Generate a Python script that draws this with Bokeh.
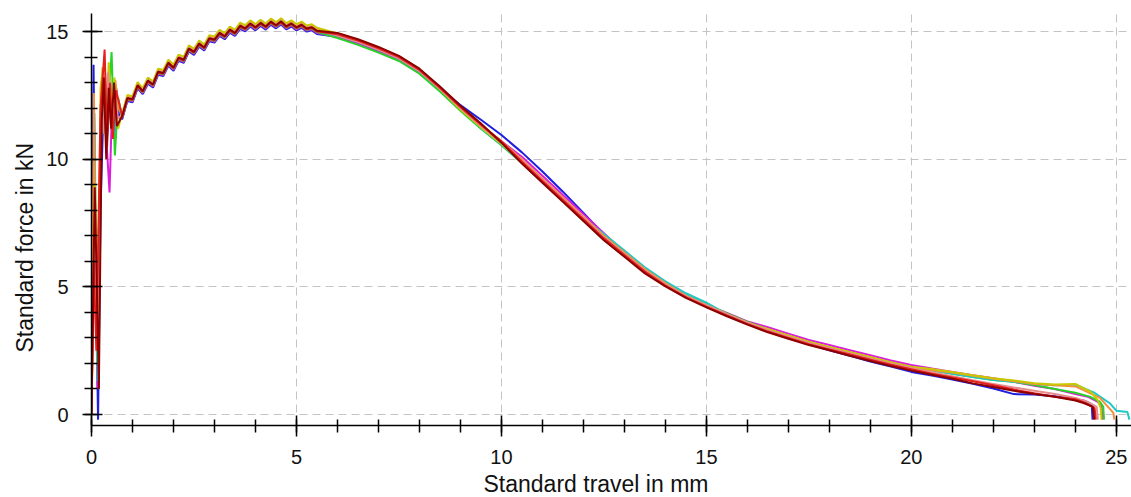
from bokeh.plotting import figure
from bokeh.models import SingleIntervalTicker, Range1d, Title
from bokeh.embed import file_html
from bokeh.resources import INLINE

# ---------------- data ----------------
travel_body = [0.75, 0.875, 1.0, 1.125, 1.25, 1.375, 1.5, 1.625, 1.75, 1.875, 2.0, 2.125, 2.25, 2.375,
               2.5, 2.625, 2.75, 2.875, 3.0, 3.125, 3.25, 3.375, 3.5, 3.625, 3.75, 3.875, 4.0, 4.125,
               4.25, 4.375, 4.5, 4.625, 4.75, 4.875, 5.0, 5.125, 5.25, 5.375, 5.5,
               6.0, 6.5, 7.0, 7.5, 8.0, 8.5, 9.0, 9.5, 10.0, 10.5, 11.0, 11.5, 12.0, 12.5, 13.0, 13.5,
               14.0, 14.5, 15.0, 15.5, 16.0, 16.5, 17.0, 17.5, 18.0, 18.5, 19.0, 19.5, 20.0, 20.5,
               21.0, 21.5, 22.0, 22.5, 23.0, 23.5, 24.0]

# blue
blue_head_x = [0.0, 0.05, 0.1, 0.16, 0.22, 0.3, 0.38, 0.45, 0.52, 0.6, 0.68]
blue_head_y = [0.0, 13.7, 6.0, -0.2, 8.0, 12.5, 11.0, 13.2, 11.5, 12.8, 11.6]
blue_body = [11.58, 12.28, 12.23, 12.78, 12.55, 12.96, 12.81, 13.31, 13.26, 13.66, 13.47, 13.86, 13.78, 14.22,
             14.09, 14.41, 14.26, 14.62, 14.57, 14.83, 14.7, 14.96, 14.83, 15.11, 15.01, 15.2, 15.05, 15.22,
             15.08, 15.27, 15.13, 15.28, 15.09, 15.2, 15.05, 15.15, 15.0, 15.05, 14.91,
             14.8, 14.55, 14.25, 13.9, 13.45, 12.8, 12.12, 11.55, 10.95, 10.27, 9.52, 8.73, 7.9, 7.05,
             6.35, 5.7, 5.1, 4.65, 4.28, 3.91, 3.57, 3.25, 3.0, 2.75, 2.52, 2.3, 2.08, 1.88, 1.67, 1.53,
             1.37, 1.2, 1.02, 0.8, 0.78, 0.72, 0.6]
blue_tail_x = [24.2, 24.4, 24.42]
blue_tail_y = [0.55, 0.4, -0.2]

# magenta
magenta_head_x = [0.0, 0.06, 0.15, 0.22, 0.3, 0.37, 0.44, 0.5, 0.58, 0.66]
magenta_head_y = [0.0, 8.0, 1.0, 11.2, 13.0, 10.6, 8.7, 12.0, 10.8, 12.3]
magenta_body = [11.62, 12.32, 12.27, 12.82, 12.59, 13.0, 12.85, 13.35, 13.3, 13.7, 13.51, 13.9, 13.82, 14.26,
                14.13, 14.45, 14.3, 14.66, 14.61, 14.87, 14.74, 15.0, 14.87, 15.15, 15.05, 15.24, 15.09, 15.26,
                15.12, 15.31, 15.17, 15.32, 15.13, 15.24, 15.09, 15.19, 15.04, 15.09, 14.95,
                14.8, 14.55, 14.25, 13.9, 13.4, 12.7, 11.95, 11.3, 10.7, 10.1, 9.35, 8.6, 7.85, 7.1,
                6.35, 5.65, 5.1, 4.65, 4.28, 3.98, 3.65, 3.42, 3.17, 2.92, 2.72, 2.52, 2.32, 2.12, 1.94, 1.8,
                1.67, 1.54, 1.42, 1.28, 1.13, 1.0, 0.8]
magenta_tail_x = [24.3, 24.55, 24.64, 24.66]
magenta_tail_y = [0.7, 0.5, 0.3, -0.2]

# green
green_head_x = [0.0, 0.07, 0.14, 0.22, 0.3, 0.38, 0.49, 0.57, 0.65]
green_head_y = [0.0, 10.0, 2.0, 11.5, 12.8, 11.4, 14.2, 10.15, 12.4]
green_body = [11.65, 12.35, 12.3, 12.85, 12.62, 13.03, 12.88, 13.38, 13.33, 13.73, 13.54, 13.93, 13.85, 14.29,
              14.16, 14.48, 14.33, 14.69, 14.64, 14.9, 14.77, 15.03, 14.9, 15.18, 15.08, 15.27, 15.12, 15.29,
              15.15, 15.34, 15.2, 15.35, 15.16, 15.27, 15.12, 15.22, 15.07, 15.12, 14.98,
              14.75, 14.48, 14.18, 13.85, 13.35, 12.65, 11.9, 11.2, 10.55, 9.85, 9.1, 8.35, 7.6, 6.85,
              6.2, 5.6, 5.13, 4.68, 4.31, 3.96, 3.63, 3.33, 3.08, 2.83, 2.63, 2.43, 2.23, 2.03, 1.85, 1.73,
              1.6, 1.47, 1.35, 1.28, 1.16, 1.0, 0.85]
green_tail_x = [24.35, 24.6, 24.68, 24.7]
green_tail_y = [0.7, 0.5, 0.3, -0.2]

# cyan
cyan_head_x = [0.0, 0.07, 0.15, 0.22, 0.3, 0.38, 0.46, 0.55, 0.63]
cyan_head_y = [0.0, 11.8, 1.3, 10.5, 12.2, 10.8, 12.6, 11.0, 12.4]
cyan_body = [11.68, 12.38, 12.33, 12.88, 12.65, 13.06, 12.91, 13.41, 13.36, 13.76, 13.57, 13.96, 13.88, 14.32,
             14.19, 14.51, 14.36, 14.72, 14.67, 14.93, 14.8, 15.06, 14.93, 15.21, 15.11, 15.3, 15.15, 15.32,
             15.18, 15.37, 15.23, 15.38, 15.19, 15.3, 15.15, 15.25, 15.1, 15.15, 15.01,
             14.85, 14.6, 14.3, 13.95, 13.45, 12.75, 12.0, 11.22, 10.57, 9.87, 9.12, 8.37, 7.7, 7.07,
             6.42, 5.77, 5.22, 4.75, 4.38, 3.93, 3.6, 3.3, 3.05, 2.8, 2.6, 2.4, 2.2, 2.0, 1.82, 1.73,
             1.6, 1.47, 1.35, 1.28, 1.2, 1.15, 1.17]
cyan_tail_x = [24.45, 24.85, 25.0, 25.27, 25.32]
cyan_tail_y = [0.87, 0.43, 0.15, 0.1, -0.2]

# orange
orange_head_x = [0.0, 0.06, 0.12, 0.2, 0.27, 0.35, 0.42, 0.5, 0.58, 0.66]
orange_head_y = [0.0, 12.6, 3.0, 9.0, 13.6, 11.0, 12.9, 11.4, 13.1, 12.0]
orange_body = [11.75, 12.45, 12.4, 12.95, 12.72, 13.13, 12.98, 13.48, 13.43, 13.83, 13.64, 14.03, 13.95, 14.39,
               14.26, 14.58, 14.43, 14.79, 14.74, 15.0, 14.87, 15.13, 15.0, 15.28, 15.18, 15.37, 15.22, 15.39,
               15.25, 15.44, 15.3, 15.45, 15.26, 15.37, 15.22, 15.32, 15.17, 15.22, 15.08,
               14.9, 14.65, 14.35, 14.0, 13.5, 12.8, 12.05, 11.35, 10.7, 10.0, 9.25, 8.5, 7.75, 7.0,
               6.35, 5.7, 5.15, 4.65, 4.28, 3.93, 3.6, 3.3, 3.05, 2.8, 2.6, 2.4, 2.2, 2.0, 1.82, 1.73,
               1.65, 1.52, 1.4, 1.3, 1.2, 1.15, 1.1]
orange_tail_x = [24.6, 24.88, 24.93, 24.95]
orange_tail_y = [0.65, 0.15, 0.05, -0.2]

# yellow
yellow_head_x = [0.0, 0.09, 0.16, 0.22, 0.28, 0.35, 0.42, 0.5, 0.56, 0.65]
yellow_head_y = [0.0, 9.0, 4.0, 12.8, 13.6, 10.9, 13.8, 12.0, 13.2, 11.2]
yellow_body = [11.82, 12.52, 12.47, 13.02, 12.79, 13.2, 13.05, 13.55, 13.5, 13.9, 13.71, 14.1, 14.02, 14.46,
               14.33, 14.65, 14.5, 14.86, 14.81, 15.07, 14.94, 15.2, 15.07, 15.35, 15.25, 15.44, 15.29, 15.46,
               15.32, 15.51, 15.37, 15.52, 15.33, 15.44, 15.29, 15.39, 15.24, 15.29, 15.15,
               14.93, 14.68, 14.38, 14.03, 13.53, 12.75, 11.95, 11.25, 10.6, 9.9, 9.15, 8.4, 7.65, 6.95,
               6.3, 5.65, 5.1, 4.65, 4.28, 3.93, 3.6, 3.35, 3.1, 2.85, 2.65, 2.45, 2.25, 2.05, 1.87, 1.78,
               1.67, 1.54, 1.42, 1.33, 1.23, 1.18, 1.2]
yellow_tail_x = [24.37, 24.55, 24.62, 24.64]
yellow_tail_y = [0.9, 0.55, 0.25, -0.2]

# salmon
salmon_head_x = [0.0, 0.07, 0.14, 0.24, 0.3, 0.4, 0.48, 0.56, 0.64]
salmon_head_y = [0.0, 7.0, 3.5, 12.5, 11.0, 13.4, 11.2, 12.8, 11.6]
salmon_body = [11.72, 12.42, 12.37, 12.92, 12.69, 13.1, 12.95, 13.45, 13.4, 13.8, 13.61, 14.0, 13.92, 14.36,
               14.23, 14.55, 14.4, 14.76, 14.71, 14.97, 14.84, 15.1, 14.97, 15.25, 15.15, 15.34, 15.19, 15.36,
               15.22, 15.41, 15.27, 15.42, 15.23, 15.34, 15.19, 15.29, 15.14, 15.19, 15.05,
               14.85, 14.6, 14.3, 13.95, 13.45, 12.75, 12.0, 11.3, 10.65, 9.95, 9.2, 8.45, 7.7, 6.95,
               6.3, 5.65, 5.1, 4.65, 4.28, 3.93, 3.6, 3.3, 3.05, 2.8, 2.6, 2.4, 2.2, 2.0, 1.82, 1.66,
               1.5, 1.34, 1.2, 1.06, 0.93, 0.8, 0.65]
salmon_tail_x = [24.3, 24.52, 24.55]
salmon_tail_y = [0.5, 0.3, -0.2]

# red
red_head_x = [0.0, 0.05, 0.12, 0.22, 0.32, 0.38, 0.45, 0.52, 0.6]
red_head_y = [0.0, 6.0, 2.5, 12.0, 14.3, 10.5, 13.0, 10.8, 12.7]
red_body = [11.67, 12.37, 12.32, 12.87, 12.64, 13.05, 12.9, 13.4, 13.35, 13.75, 13.56, 13.95, 13.87, 14.31,
            14.18, 14.5, 14.35, 14.71, 14.66, 14.92, 14.79, 15.05, 14.92, 15.2, 15.1, 15.29, 15.14, 15.31,
            15.17, 15.36, 15.22, 15.37, 15.18, 15.29, 15.14, 15.24, 15.09, 15.14, 15.0,
            14.9, 14.65, 14.35, 14.0, 13.5, 12.8, 12.05, 11.35, 10.7, 9.9, 9.15, 8.4, 7.65, 6.9,
            6.25, 5.6, 5.05, 4.6, 4.23, 3.88, 3.55, 3.25, 3.0, 2.75, 2.55, 2.35, 2.15, 1.95, 1.77, 1.6,
            1.45, 1.3, 1.15, 0.98, 0.83, 0.7, 0.6]
red_tail_x = [24.25, 24.47, 24.5]
red_tail_y = [0.45, 0.25, -0.2]

# dark red
darkred_head_x = [0.0, 0.08, 0.13, 0.18, 0.25, 0.3, 0.36, 0.42, 0.48, 0.55, 0.62]
darkred_head_y = [0.0, 8.9, 5.0, 1.0, 11.5, 13.2, 10.0, 12.8, 11.2, 13.0, 11.3]
darkred_body = [11.7, 12.4, 12.35, 12.9, 12.67, 13.08, 12.93, 13.43, 13.38, 13.78, 13.59, 13.98, 13.9, 14.34,
                14.21, 14.53, 14.38, 14.74, 14.69, 14.95, 14.82, 15.08, 14.95, 15.23, 15.13, 15.32, 15.17, 15.34,
                15.2, 15.39, 15.25, 15.4, 15.21, 15.32, 15.17, 15.27, 15.12, 15.17, 15.03,
                14.95, 14.7, 14.4, 14.05, 13.55, 12.85, 12.1, 11.4, 10.65, 9.83, 9.08, 8.33, 7.58, 6.83,
                6.18, 5.53, 5.02, 4.57, 4.2, 3.85, 3.52, 3.22, 2.97, 2.72, 2.52, 2.3, 2.1, 1.9, 1.72, 1.56,
                1.4, 1.22, 1.08, 0.93, 0.8, 0.7, 0.55]
darkred_tail_x = [24.2, 24.43, 24.46]
darkred_tail_y = [0.45, 0.3, -0.2]

series = [
    ("#1e1ee0", blue_head_x, blue_head_y, blue_body, blue_tail_x, blue_tail_y),
    ("#dc1edc", magenta_head_x, magenta_head_y, magenta_body, magenta_tail_x, magenta_tail_y),
    ("#28d228", green_head_x, green_head_y, green_body, green_tail_x, green_tail_y),
    ("#1ec8c8", cyan_head_x, cyan_head_y, cyan_body, cyan_tail_x, cyan_tail_y),
    ("#f0913c", orange_head_x, orange_head_y, orange_body, orange_tail_x, orange_tail_y),
    ("#c8c800", yellow_head_x, yellow_head_y, yellow_body, yellow_tail_x, yellow_tail_y),
    ("#e68c8c", salmon_head_x, salmon_head_y, salmon_body, salmon_tail_x, salmon_tail_y),
    ("#e61e1e", red_head_x, red_head_y, red_body, red_tail_x, red_tail_y),
    ("#8c0000", darkred_head_x, darkred_head_y, darkred_body, darkred_tail_x, darkred_tail_y),
]

x_title = "Standard travel in mm"
y_title = "Standard force in kN"

# ---------------- figure ----------------
p = figure(frame_width=1040, frame_height=412, output_backend="svg", toolbar_location=None,
           x_range=Range1d(0, 25.37), y_range=Range1d(-0.43, 15.71),
           min_border_left=91, min_border_right=0, min_border_top=13, min_border_bottom=60)
p.outline_line_color = None
p.background_fill_color = "white"
p.border_fill_color = "white"

for color, hx, hy, body, tx, ty in series:
    xs = hx + travel_body + tx
    ys = hy + body + ty
    p.line(xs, ys, line_color=color, line_width=2)

FONT = "Liberation Sans"
for ax in (p.xaxis[0], p.yaxis[0]):
    ax.ticker = SingleIntervalTicker(interval=5, num_minor_ticks=5)
    ax.axis_line_color = "black"
    ax.axis_line_width = 1.5
    ax.major_tick_line_color = "black"
    ax.major_tick_line_width = 1.5
    ax.minor_tick_line_color = "black"
    ax.minor_tick_line_width = 1.5
    ax.minor_tick_in = 6
    ax.minor_tick_out = 7
    ax.major_label_text_font = FONT
    ax.major_label_text_font_size = "20px"
    ax.major_label_text_color = "#111111"

p.xaxis.major_tick_in = 10
p.xaxis.major_tick_out = 11
p.yaxis.major_tick_in = 11
p.yaxis.major_tick_out = 9
p.xaxis.major_label_standoff = 13
p.yaxis.major_label_standoff = 14

p.add_layout(Title(text=x_title, align="left", offset=392, standoff=4,
                   text_font=FONT, text_font_size="23px", text_font_style="normal",
                   text_color="#111111"), "below")
p.add_layout(Title(text=y_title, align="left", offset=73, standoff=12,
                   text_font=FONT, text_font_size="23px", text_font_style="normal",
                   text_color="#111111"), "left")

for g in (p.xgrid[0], p.ygrid[0]):
    g.ticker = SingleIntervalTicker(interval=5)
    g.grid_line_color = "#c4c4c4"
    g.grid_line_dash = "8 5"
    g.grid_line_width = 1

open("out.html", "w").write(file_html(p, INLINE))
